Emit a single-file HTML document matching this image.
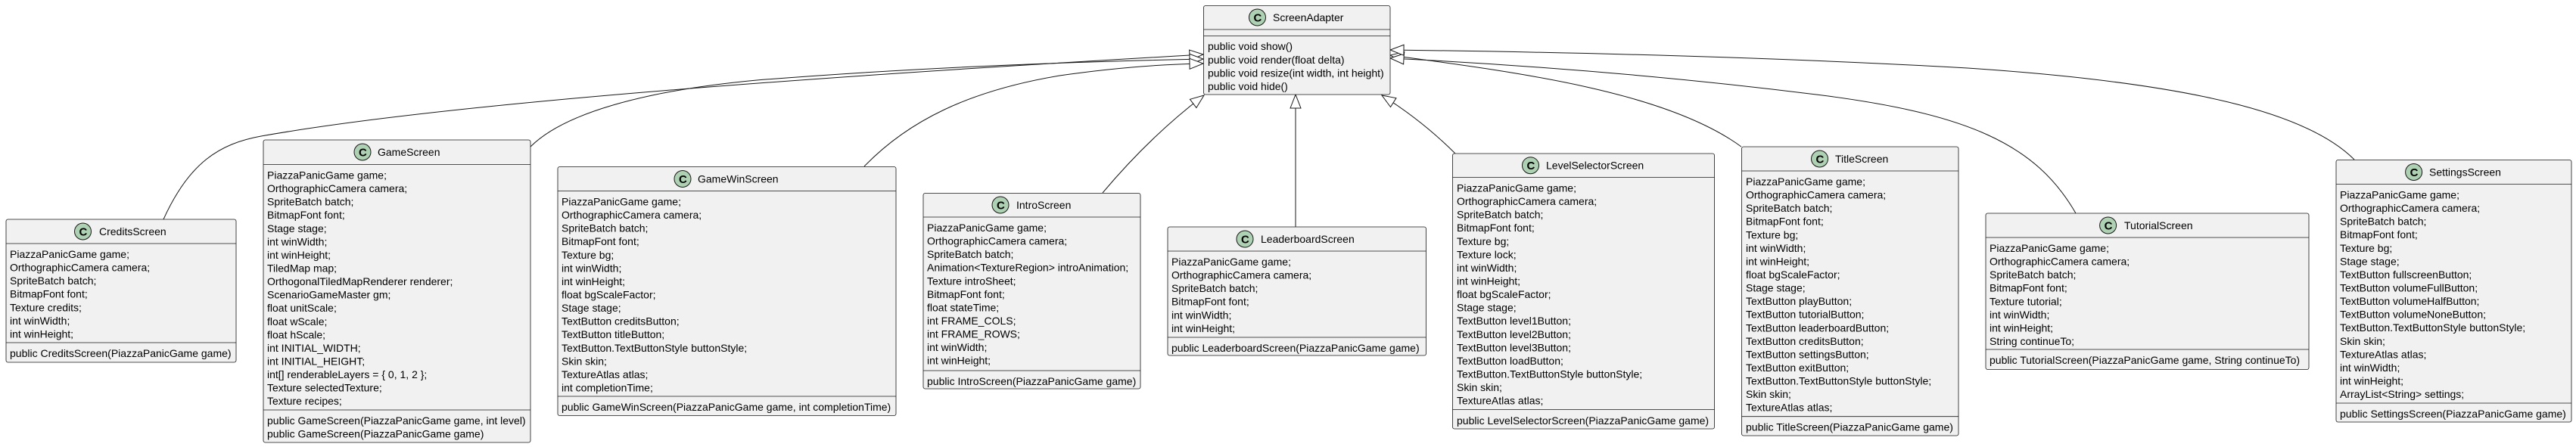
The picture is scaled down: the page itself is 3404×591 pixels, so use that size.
<!DOCTYPE html>
<html><head><meta charset="utf-8"><style>
html,body{margin:0;padding:0;background:#fff;}
svg{display:block;}
text{font-family:"Liberation Sans",sans-serif;font-size:14px;fill:#000;}
.b{fill:#F1F1F1;stroke:#181818;stroke-width:0.8;}
.d{stroke:#181818;stroke-width:0.8;}
.c{fill:#ADD1B2;stroke:#181818;stroke-width:1;}
.e{fill:none;stroke:#181818;stroke-width:1;}
.ct{font-weight:bold;font-size:15px;}
</style></head><body>
<svg width="3404" height="591" viewBox="0 0 3404 591" xmlns="http://www.w3.org/2000/svg">
<defs>
<marker id="t" markerUnits="userSpaceOnUse" markerWidth="24" markerHeight="20" refX="19" refY="8" orient="auto">
<path d="M1,1 L19,8 L1,15 Z" fill="#fff" stroke="#181818" stroke-width="1"/>
</marker>
</defs>

<!-- edges -->
<path class="e" marker-end="url(#t)" d="M216,290 C250,215 290,190 345,180 C600,135 1100,100 1590,72"/>
<path class="e" marker-end="url(#t)" d="M701,194 C745,150 850,120 1000,106 C1200,90 1400,82 1590,78"/>
<path class="e" marker-end="url(#t)" d="M1142,220 C1200,160 1280,120 1400,100 C1470,90 1530,85 1590,84"/>
<path class="e" marker-end="url(#t)" d="M1457,255 Q1520,180 1591,126"/>
<path class="e" marker-end="url(#t)" d="M1712,300 L1712,125"/>
<path class="e" marker-end="url(#t)" d="M1923,203 Q1880,160 1826,126"/>
<path class="e" marker-end="url(#t)" d="M2301,194 C2200,120 2000,95 1837,73"/>
<path class="e" marker-end="url(#t)" d="M2743,282 C2690,190 2600,150 2400,125 C2200,100 2000,85 1837,77"/>
<path class="e" marker-end="url(#t)" d="M3111,211 C3050,150 2900,110 2600,90 C2300,73 2000,68 1837,66"/>

<!-- ScreenAdapter -->
<rect class="b" x="1590.5" y="7.5" width="246.5" height="117.5" rx="2.5"/>
<line class="d" x1="1590.5" y1="39" x2="1837" y2="39"/>
<line class="d" x1="1590.5" y1="47.5" x2="1837" y2="47.5"/>
<circle class="c" cx="1661.5" cy="23" r="11"/><text class="ct" x="1656.5" y="28.5">C</text>
<text x="1682" y="28">ScreenAdapter</text>
<text x="1596" y="66">public void show()</text>
<text x="1596" y="84">public void render(float delta)</text>
<text x="1596" y="101.5">public void resize(int width, int height)</text>
<text x="1596" y="119">public void hide()</text>

<!-- CreditsScreen -->
<rect class="b" x="8" y="290" width="304" height="189" rx="2.5"/>
<line class="d" x1="8" y1="322" x2="312" y2="322"/>
<line class="d" x1="8" y1="453" x2="312" y2="453"/>
<circle class="c" cx="109.5" cy="306" r="11"/><text class="ct" x="104.5" y="311.5">C</text>
<text x="131" y="311">CreditsScreen</text>
<text x="13" y="341">PiazzaPanicGame game;</text>
<text x="13" y="358.6">OrthographicCamera camera;</text>
<text x="13" y="376.1">SpriteBatch batch;</text>
<text x="13" y="393.7">BitmapFont font;</text>
<text x="13" y="411.3">Texture credits;</text>
<text x="13" y="428.9">int winWidth;</text>
<text x="13" y="446.4">int winHeight;</text>
<text x="13" y="472">public CreditsScreen(PiazzaPanicGame game)</text>

<!-- GameScreen -->
<rect class="b" x="348" y="185" width="353" height="400" rx="2.5"/>
<line class="d" x1="348" y1="217.5" x2="701" y2="217.5"/>
<line class="d" x1="348" y1="542" x2="701" y2="542"/>
<circle class="c" cx="479" cy="201" r="11"/><text class="ct" x="474" y="206.5">C</text>
<text x="499" y="206">GameScreen</text>
<text x="353" y="236.5">PiazzaPanicGame game;</text>
<text x="353" y="254.1">OrthographicCamera camera;</text>
<text x="353" y="271.6">SpriteBatch batch;</text>
<text x="353" y="289.2">BitmapFont font;</text>
<text x="353" y="306.8">Stage stage;</text>
<text x="353" y="324.4">int winWidth;</text>
<text x="353" y="341.9">int winHeight;</text>
<text x="353" y="359.5">TiledMap map;</text>
<text x="353" y="377.1">OrthogonalTiledMapRenderer renderer;</text>
<text x="353" y="394.6">ScenarioGameMaster gm;</text>
<text x="353" y="412.2">float unitScale;</text>
<text x="353" y="429.8">float wScale;</text>
<text x="353" y="447.3">float hScale;</text>
<text x="353" y="464.9">int INITIAL_WIDTH;</text>
<text x="353" y="482.5">int INITIAL_HEIGHT;</text>
<text x="353" y="500">int[] renderableLayers = { 0, 1, 2 };</text>
<text x="353" y="517.6">Texture selectedTexture;</text>
<text x="353" y="535.2">Texture recipes;</text>
<text x="353" y="561">public GameScreen(PiazzaPanicGame game, int level)</text>
<text x="353" y="578.6">public GameScreen(PiazzaPanicGame game)</text>

<!-- GameWinScreen -->
<rect class="b" x="737" y="220.5" width="447" height="329" rx="2.5"/>
<line class="d" x1="737" y1="252.5" x2="1184" y2="252.5"/>
<line class="d" x1="737" y1="524" x2="1184" y2="524"/>
<circle class="c" cx="902" cy="236.5" r="11"/><text class="ct" x="897" y="242">C</text>
<text x="922" y="241.5">GameWinScreen</text>
<text x="742" y="271.5">PiazzaPanicGame game;</text>
<text x="742" y="289.1">OrthographicCamera camera;</text>
<text x="742" y="306.6">SpriteBatch batch;</text>
<text x="742" y="324.2">BitmapFont font;</text>
<text x="742" y="341.8">Texture bg;</text>
<text x="742" y="359.4">int winWidth;</text>
<text x="742" y="376.9">int winHeight;</text>
<text x="742" y="394.5">float bgScaleFactor;</text>
<text x="742" y="412.1">Stage stage;</text>
<text x="742" y="429.6">TextButton creditsButton;</text>
<text x="742" y="447.2">TextButton titleButton;</text>
<text x="742" y="464.8">TextButton.TextButtonStyle buttonStyle;</text>
<text x="742" y="482.3">Skin skin;</text>
<text x="742" y="499.9">TextureAtlas atlas;</text>
<text x="742" y="517.5">int completionTime;</text>
<text x="742" y="543">public GameWinScreen(PiazzaPanicGame game, int completionTime)</text>

<!-- IntroScreen -->
<rect class="b" x="1220" y="255.5" width="287" height="258.5" rx="2.5"/>
<line class="d" x1="1220" y1="287" x2="1507" y2="287"/>
<line class="d" x1="1220" y1="490" x2="1507" y2="490"/>
<circle class="c" cx="1322" cy="271" r="11"/><text class="ct" x="1317" y="276.5">C</text>
<text x="1343" y="276">IntroScreen</text>
<text x="1225" y="306">PiazzaPanicGame game;</text>
<text x="1225" y="323.6">OrthographicCamera camera;</text>
<text x="1225" y="341.1">SpriteBatch batch;</text>
<text x="1225" y="358.7">Animation&lt;TextureRegion&gt; introAnimation;</text>
<text x="1225" y="376.3">Texture introSheet;</text>
<text x="1225" y="393.9">BitmapFont font;</text>
<text x="1225" y="411.4">float stateTime;</text>
<text x="1225" y="429">int FRAME_COLS;</text>
<text x="1225" y="446.6">int FRAME_ROWS;</text>
<text x="1225" y="464.1">int winWidth;</text>
<text x="1225" y="481.7">int winHeight;</text>
<text x="1225" y="509">public IntroScreen(PiazzaPanicGame game)</text>

<!-- LeaderboardScreen -->
<rect class="b" x="1543" y="300" width="341.5" height="170" rx="2.5"/>
<line class="d" x1="1543" y1="332" x2="1884.5" y2="332"/>
<line class="d" x1="1543" y1="446" x2="1884.5" y2="446"/>
<circle class="c" cx="1645" cy="316" r="11"/><text class="ct" x="1640" y="321.5">C</text>
<text x="1666" y="321">LeaderboardScreen</text>
<text x="1548" y="351">PiazzaPanicGame game;</text>
<text x="1548" y="368.6">OrthographicCamera camera;</text>
<text x="1548" y="386.1">SpriteBatch batch;</text>
<text x="1548" y="403.7">BitmapFont font;</text>
<text x="1548" y="421.3">int winWidth;</text>
<text x="1548" y="438.8">int winHeight;</text>
<text x="1548" y="465">public LeaderboardScreen(PiazzaPanicGame game)</text>

<!-- LevelSelectorScreen -->
<rect class="b" x="1919.5" y="203" width="346" height="364" rx="2.5"/>
<line class="d" x1="1919.5" y1="234.5" x2="2265.5" y2="234.5"/>
<line class="d" x1="1919.5" y1="541.6" x2="2265.5" y2="541.6"/>
<circle class="c" cx="2022.5" cy="218.7" r="11"/><text class="ct" x="2017.5" y="224.2">C</text>
<text x="2043" y="223.7">LevelSelectorScreen</text>
<text x="1925" y="253.5">PiazzaPanicGame game;</text>
<text x="1925" y="271.1">OrthographicCamera camera;</text>
<text x="1925" y="288.6">SpriteBatch batch;</text>
<text x="1925" y="306.2">BitmapFont font;</text>
<text x="1925" y="323.8">Texture bg;</text>
<text x="1925" y="341.4">Texture lock;</text>
<text x="1925" y="358.9">int winWidth;</text>
<text x="1925" y="376.5">int winHeight;</text>
<text x="1925" y="394.1">float bgScaleFactor;</text>
<text x="1925" y="411.6">Stage stage;</text>
<text x="1925" y="429.2">TextButton level1Button;</text>
<text x="1925" y="446.8">TextButton level2Button;</text>
<text x="1925" y="464.3">TextButton level3Button;</text>
<text x="1925" y="481.9">TextButton loadButton;</text>
<text x="1925" y="499.5">TextButton.TextButtonStyle buttonStyle;</text>
<text x="1925" y="517.1">Skin skin;</text>
<text x="1925" y="534.6">TextureAtlas atlas;</text>
<text x="1925" y="561">public LevelSelectorScreen(PiazzaPanicGame game)</text>

<!-- TitleScreen -->
<rect class="b" x="2301.5" y="194" width="286.5" height="382" rx="2.5"/>
<line class="d" x1="2301.5" y1="226" x2="2588" y2="226"/>
<line class="d" x1="2301.5" y1="550.7" x2="2588" y2="550.7"/>
<circle class="c" cx="2404.5" cy="210" r="11"/><text class="ct" x="2399.5" y="215.5">C</text>
<text x="2425" y="215">TitleScreen</text>
<text x="2307" y="245">PiazzaPanicGame game;</text>
<text x="2307" y="262.6">OrthographicCamera camera;</text>
<text x="2307" y="280.1">SpriteBatch batch;</text>
<text x="2307" y="297.7">BitmapFont font;</text>
<text x="2307" y="315.3">Texture bg;</text>
<text x="2307" y="332.9">int winWidth;</text>
<text x="2307" y="350.4">int winHeight;</text>
<text x="2307" y="368">float bgScaleFactor;</text>
<text x="2307" y="385.6">Stage stage;</text>
<text x="2307" y="403.1">TextButton playButton;</text>
<text x="2307" y="420.7">TextButton tutorialButton;</text>
<text x="2307" y="438.3">TextButton leaderboardButton;</text>
<text x="2307" y="455.8">TextButton creditsButton;</text>
<text x="2307" y="473.4">TextButton settingsButton;</text>
<text x="2307" y="491">TextButton exitButton;</text>
<text x="2307" y="508.6">TextButton.TextButtonStyle buttonStyle;</text>
<text x="2307" y="526.1">Skin skin;</text>
<text x="2307" y="543.7">TextureAtlas atlas;</text>
<text x="2307" y="569.7">public TitleScreen(PiazzaPanicGame game)</text>

<!-- TutorialScreen -->
<rect class="b" x="2624" y="282" width="427" height="206.5" rx="2.5"/>
<line class="d" x1="2624" y1="314" x2="3051" y2="314"/>
<line class="d" x1="2624" y1="462" x2="3051" y2="462"/>
<circle class="c" cx="2785.6" cy="298" r="11"/><text class="ct" x="2780.6" y="303.5">C</text>
<text x="2807" y="303">TutorialScreen</text>
<text x="2629" y="333">PiazzaPanicGame game;</text>
<text x="2629" y="350.6">OrthographicCamera camera;</text>
<text x="2629" y="368.1">SpriteBatch batch;</text>
<text x="2629" y="385.7">BitmapFont font;</text>
<text x="2629" y="403.3">Texture tutorial;</text>
<text x="2629" y="420.9">int winWidth;</text>
<text x="2629" y="438.4">int winHeight;</text>
<text x="2629" y="456">String continueTo;</text>
<text x="2629" y="481">public TutorialScreen(PiazzaPanicGame game, String continueTo)</text>

<!-- SettingsScreen -->
<rect class="b" x="3087" y="211.5" width="311" height="346.5" rx="2.5"/>
<line class="d" x1="3087" y1="243.5" x2="3398" y2="243.5"/>
<line class="d" x1="3087" y1="533" x2="3398" y2="533"/>
<circle class="c" cx="3189.6" cy="227.5" r="11"/><text class="ct" x="3184.6" y="233">C</text>
<text x="3210" y="232.5">SettingsScreen</text>
<text x="3092" y="262.5">PiazzaPanicGame game;</text>
<text x="3092" y="280.1">OrthographicCamera camera;</text>
<text x="3092" y="297.6">SpriteBatch batch;</text>
<text x="3092" y="315.2">BitmapFont font;</text>
<text x="3092" y="332.8">Texture bg;</text>
<text x="3092" y="350.4">Stage stage;</text>
<text x="3092" y="367.9">TextButton fullscreenButton;</text>
<text x="3092" y="385.5">TextButton volumeFullButton;</text>
<text x="3092" y="403.1">TextButton volumeHalfButton;</text>
<text x="3092" y="420.6">TextButton volumeNoneButton;</text>
<text x="3092" y="438.2">TextButton.TextButtonStyle buttonStyle;</text>
<text x="3092" y="455.8">Skin skin;</text>
<text x="3092" y="473.3">TextureAtlas atlas;</text>
<text x="3092" y="490.9">int winWidth;</text>
<text x="3092" y="508.5">int winHeight;</text>
<text x="3092" y="526">ArrayList&lt;String&gt; settings;</text>
<text x="3092" y="552">public SettingsScreen(PiazzaPanicGame game)</text>
</svg>
</body></html>
